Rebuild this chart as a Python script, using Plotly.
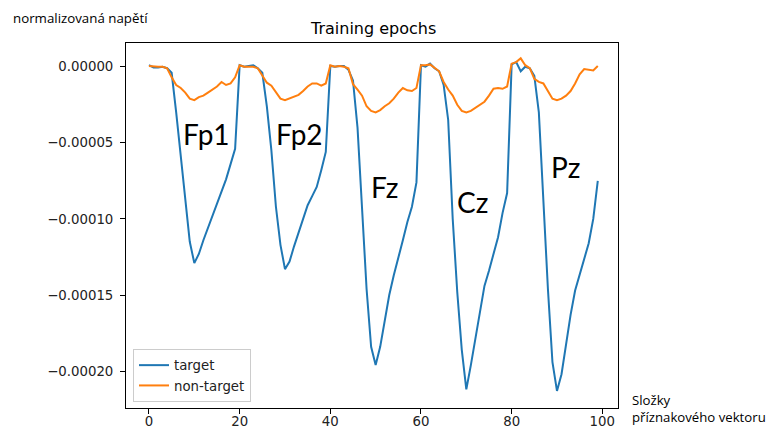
import numpy as np
import plotly.graph_objects as go

# Feature-vector components (5 channels x 20 samples)
components = list(range(100))

# Averaged normalized voltages, in units of 1e-5
target_e5 = [
    0.1, -0.05, -0.05, 0.0, -0.1, -0.4, -3.0, -6.0, -8.8, -11.5,
    -12.9, -12.3, -11.4, -10.6, -9.7, -8.9, -8.2, -7.4, -6.4, -5.4,
    0.1, 0.0, 0.05, 0.1, -0.1, -0.4, -2.6, -5.5, -9.2, -11.7,
    -13.3, -12.8, -11.8, -10.9, -10.0, -9.1, -8.5, -7.9, -6.8, -5.6,
    0.05, 0.0, 0.05, 0.05, -0.2, -0.9, -4.0, -9.3, -14.6, -18.4,
    -19.6, -18.4, -16.6, -15.0, -13.7, -12.6, -11.4, -10.2, -9.2, -7.6,
    0.1, 0.0, 0.2, -0.1, -0.3, -1.2, -3.5, -10.0, -14.8, -18.6,
    -21.2, -19.6, -17.8, -16.0, -14.4, -13.4, -12.3, -11.2, -9.6, -8.3,
    0.15, 0.3, -0.3, 0.0, -0.1, -0.6, -3.0, -8.8, -14.6, -19.4,
    -21.3, -20.2, -18.2, -16.3, -14.7, -13.7, -12.7, -11.6, -10.0, -7.5,
]
nontarget_e5 = [
    0.05, 0.0, 0.0, 0.0, -0.1, -0.7, -1.2, -1.4, -1.7, -2.1,
    -2.2, -2.0, -1.9, -1.7, -1.5, -1.3, -1.0, -1.2, -1.1, -0.7,
    0.1, 0.0, 0.0, 0.0, -0.1, -0.6, -1.05, -1.25, -1.7, -2.1,
    -2.2, -2.1, -2.0, -1.85, -1.6, -1.3, -1.1, -1.1, -1.25, -1.1,
    0.1, 0.0, 0.05, 0.0, -0.1, -1.15, -1.5, -1.9, -2.6, -2.9,
    -3.0, -2.85, -2.6, -2.4, -2.1, -1.7, -1.4, -1.55, -1.6, -1.4,
    0.1, 0.1, 0.15, -0.05, -0.3, -1.0, -1.5, -1.9, -2.5, -2.9,
    -3.0, -2.9, -2.7, -2.5, -2.3, -1.9, -1.45, -1.4, -1.45, -1.3,
    0.2, 0.3, 0.55, 0.1, -0.1, -0.8, -1.0, -1.1, -1.6, -2.1,
    -2.2, -2.1, -1.9, -1.6, -1.1, -0.5, -0.15, -0.2, -0.25, 0.05,
]

x_ticks = [0, 20, 40, 60, 80, 100]
y_ticks = [0.0, -0.00005, -0.00010, -0.00015, -0.00020]
y_tick_labels = ["0.00000", "\u22120.00005", "\u22120.00010", "\u22120.00015", "\u22120.00020"]

channels = ["Fp1", "Fp2", "Fz", "Cz", "Pz"]

target = np.array(target_e5) * 1e-5
nontarget = np.array(nontarget_e5) * 1e-5

W, H = 769, 428
L, R, T, B = 126, 151, 43, 20


def fx(px):
    return (px - L) / (W - L - R)


def fy(py):
    return (H - B - py) / (H - T - B)


fig = go.Figure()
fig.add_trace(go.Scatter(x=components, y=target, mode="lines", name="target",
                         legendgroup="a",
                         line=dict(color="#1f77b4", width=2)))
fig.add_trace(go.Scatter(x=components, y=nontarget, mode="lines", name="non-target",
                         legendgroup="b",
                         line=dict(color="#ff7f0e", width=2)))

axis_common = dict(showline=True, mirror=True, linecolor="black", linewidth=1,
                   ticks="outside", ticklen=5, tickwidth=1, tickcolor="black",
                   showgrid=False, zeroline=False,
                   tickfont=dict(family="DejaVu Sans", size=13.3, color="#222"))

fig.update_xaxes(range=[-5.07, 103.46], tickvals=x_ticks,
                 ticktext=[str(v) for v in x_ticks], ticklabelstandoff=-4, **axis_common)
fig.update_yaxes(range=[-22.42e-5, 1.557e-5], tickvals=y_ticks,
                 ticktext=y_tick_labels, ticklabelstandoff=4, **axis_common)

annotations = []
# Channel labels
label_pos = [(206, 134), (299, 134), (384, 187), (472, 202), (565, 167)]
for name, (px, py) in zip(channels, label_pos):
    annotations.append(dict(text=name, x=fx(px), y=fy(py), xref="paper", yref="paper",
                            xanchor="center", yanchor="middle", showarrow=False,
                            font=dict(family="Lato", size=28, color="black")))

annotations.append(dict(text="Training epochs", x=fx(373), y=fy(28), xref="paper", yref="paper",
                        xanchor="center", yanchor="middle", showarrow=False,
                        font=dict(family="DejaVu Sans", size=16, color="black")))
annotations.append(dict(text="normalizovaná napětí", x=fx(11), y=fy(18), xref="paper", yref="paper",
                        xanchor="left", yanchor="middle", showarrow=False,
                        font=dict(family="Open Sans", size=13.3, color="black")))
annotations.append(dict(text="Složky<br>příznakového vektoru", x=fx(630), y=fy(408),
                        xref="paper", yref="paper", xanchor="left", yanchor="middle",
                        align="left", showarrow=False,
                        font=dict(family="Open Sans", size=13.2, color="black")))

fig.update_layout(
    width=W, height=H,
    margin=dict(l=L, r=R, t=T, b=B, autoexpand=False),
    paper_bgcolor="white", plot_bgcolor="white",
    showlegend=True,
    legend=dict(x=fx(133), y=fy(402), xanchor="left", yanchor="bottom",
                bgcolor="white", bordercolor="#cccccc", borderwidth=1,
                traceorder="grouped", tracegroupgap=0,
                font=dict(family="DejaVu Sans", size=13.3, color="#222")),
    annotations=annotations,
)

fig.write_html("out.html")
